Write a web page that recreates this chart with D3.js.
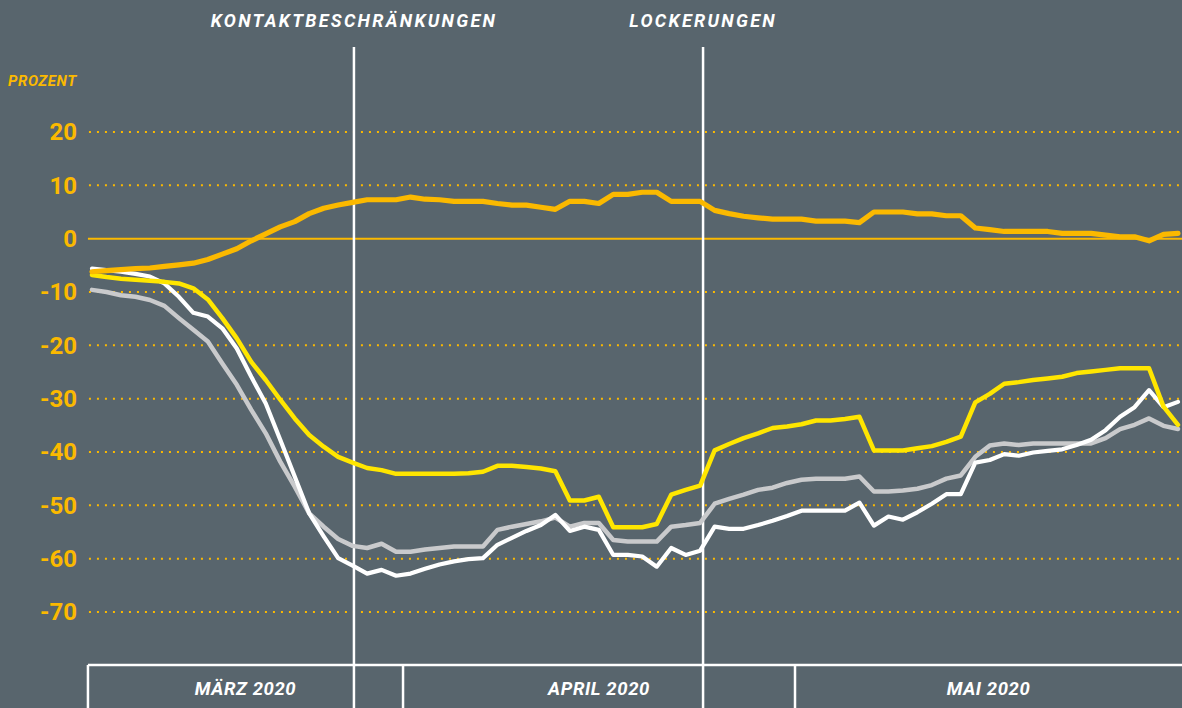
<!DOCTYPE html>
<html><head><meta charset="utf-8">
<script src="https://cdn.jsdelivr.net/npm/d3@7"></script>
<style>
html,body{margin:0;padding:0;background:#58656d;}
svg{display:block;}
text{font-family:Roboto,"Open Sans",sans-serif;}
</style></head>
<body>
<svg id="c" width="1182" height="708"></svg>
<script>
// ---- data ----
const yTicks = [20, 10, 0, -10, -20, -30, -40, -50, -60, -70];
const yTickLabels = ["20", "10", "0", "-10", "-20", "-30", "-40", "-50", "-60", "-70"];
const unitLabel = "PROZENT";

const residential = [-6.2,-6.0,-5.8,-5.6,-5.5,-5.2,-4.9,-4.6,-3.9,-2.9,-1.9,-0.4,0.9,2.2,3.2,4.7,5.7,6.3,6.8,7.3,
  7.3,7.3,7.8,7.4,7.3,7.0,7.0,7.0,6.6,6.3,6.3,5.9,5.5,7.0,7.0,6.6,8.3,8.3,8.7,8.7,
  7.0,7.0,7.0,5.3,4.7,4.2,3.9,3.65,3.65,3.65,3.3,3.3,3.3,3.0,5.0,5.0,5.0,4.65,4.65,4.3,
  4.3,2.0,1.7,1.35,1.35,1.35,1.35,1.0,1.0,1.0,0.65,0.35,0.35,-0.4,0.8,1.0];
const workplaces = [-6.8,-7.2,-7.5,-7.7,-7.9,-8.1,-8.4,-9.3,-11.4,-14.9,-18.7,-23.1,-26.5,-30.2,-33.7,-36.8,-39.0,-40.9,-42.0,-43.0,
  -43.4,-44.1,-44.1,-44.1,-44.1,-44.1,-44.0,-43.7,-42.6,-42.6,-42.8,-43.1,-43.6,-49.1,-49.1,-48.4,-54.1,-54.1,-54.1,-53.5,
  -48.0,-47.1,-46.3,-39.7,-38.5,-37.4,-36.5,-35.5,-35.2,-34.8,-34.1,-34.1,-33.8,-33.4,-39.7,-39.7,-39.7,-39.3,-38.9,-38.1,
  -37.1,-30.7,-29.1,-27.2,-26.9,-26.5,-26.2,-25.9,-25.2,-24.9,-24.6,-24.3,-24.3,-24.3,-31.5,-34.9];
const retail = [-5.6,-5.9,-6.2,-6.6,-7.1,-8.4,-10.9,-13.9,-14.6,-16.8,-20.6,-25.9,-30.9,-37.7,-44.6,-51.5,-55.8,-59.9,-61.3,-62.8,
  -62.1,-63.2,-62.8,-61.9,-61.1,-60.5,-60.1,-59.9,-57.4,-56.1,-54.8,-53.7,-51.8,-54.8,-54.0,-54.6,-59.3,-59.3,-59.6,-61.5,
  -58.0,-59.3,-58.5,-54.0,-54.4,-54.4,-53.7,-52.9,-52.0,-51.0,-51.0,-51.0,-51.0,-49.5,-53.8,-52.1,-52.7,-51.3,-49.7,-47.9,
  -47.9,-42.0,-41.5,-40.4,-40.7,-40.1,-39.8,-39.5,-38.7,-37.7,-35.9,-33.4,-31.6,-28.4,-31.6,-30.6];
const transit = [-9.6,-10.0,-10.6,-10.9,-11.5,-12.6,-14.9,-17.1,-19.3,-23.4,-27.4,-32.1,-36.5,-41.8,-46.5,-51.5,-54.0,-56.3,-57.6,-58.0,
  -57.2,-58.7,-58.7,-58.3,-58.0,-57.7,-57.7,-57.7,-54.6,-54.0,-53.5,-53.0,-52.3,-54.0,-53.3,-53.3,-56.5,-56.8,-56.8,-56.8,
  -54.0,-53.7,-53.3,-49.7,-48.8,-48.0,-47.1,-46.7,-45.8,-45.2,-45.0,-45.0,-45.0,-44.6,-47.4,-47.4,-47.2,-46.9,-46.2,-45.0,
  -44.4,-40.9,-38.8,-38.4,-38.7,-38.4,-38.4,-38.4,-38.4,-38.4,-37.4,-35.7,-34.9,-33.7,-35.1,-35.7];

// events (in day-index units) and month cells
const eventLabels = ["KONTAKTBESCHRÄNKUNGEN", "LOCKERUNGEN"];
const eventPos = [18.09, 42.2];
const monthLabels = ["MÄRZ 2020", "APRIL 2020", "MAI 2020"];
const monthBounds = [-0.28, 21.48, 48.55, 75.28];

// ---- styles ----
const BG = "#58656d", ORANGE = "#fbb900", YELLOW = "#ffe600", WHITE = "#ffffff", GRAY = "#c9cacc";

const svg = d3.select("#c");
svg.append("rect").attr("width",1182).attr("height",708).attr("fill",BG);

const n = residential.length;
const x = d3.scaleLinear().domain([0, n-1]).range([92, 1178]);
const y = d3.scaleLinear().domain([-70, 20]).range([612, 132]);
const x0 = x(monthBounds[0]), x1 = x(monthBounds[monthBounds.length-1]);

// grid lines
const grid = svg.append("g");
yTicks.forEach((t,i) => {
  if (t === 0) return;
  grid.append("line").attr("x1", x0+1).attr("x2", x1).attr("y1", y(t)).attr("y2", y(t))
    .attr("stroke", ORANGE).attr("stroke-width", 2).attr("stroke-dasharray", "2,6");
});
// zero line
grid.append("line").attr("x1", x0).attr("x2", x1).attr("y1", y(0)).attr("y2", y(0))
  .attr("stroke", ORANGE).attr("stroke-width", 2);

// y tick labels
const axis = svg.append("g");
yTicks.forEach((t,i) => {
  axis.append("text").attr("x", 77).attr("y", y(t)).attr("dy", "0.35em")
    .attr("text-anchor","end").attr("fill", ORANGE)
    .attr("font-size", 24).attr("font-weight", 700).text(yTickLabels[i]);
});
svg.append("text").attr("x", 8).attr("y", 86).attr("fill", ORANGE)
  .attr("font-size", 15).attr("font-weight", 700).attr("font-style","italic")
  .attr("letter-spacing", 0.6).text(unitLabel);

// band
const bandTop = 665;
svg.append("line").attr("x1", x0).attr("x2", x1+2).attr("y1", bandTop).attr("y2", bandTop)
  .attr("stroke", WHITE).attr("stroke-width", 2.5);
monthBounds.forEach((b,i) => {
  if (i === monthBounds.length-1) return;
  svg.append("line").attr("x1", x(b)).attr("x2", x(b)).attr("y1", bandTop).attr("y2", 710)
    .attr("stroke", WHITE).attr("stroke-width", 2.5);
});
monthLabels.forEach((m,i) => {
  svg.append("text").attr("x", (x(monthBounds[i]) + x(monthBounds[i+1]))/2).attr("y", 695)
    .attr("text-anchor","middle").attr("fill", WHITE)
    .attr("font-size", 18.5).attr("font-weight", 700).attr("font-style","italic")
    .attr("letter-spacing", 0.6).text(m);
});

// event lines
eventPos.forEach((e,i) => {
  svg.append("line").attr("x1", x(e)).attr("x2", x(e)).attr("y1", 47).attr("y2", 708)
    .attr("stroke", WHITE).attr("stroke-width", 2.5);
  svg.append("text").attr("x", x(e)).attr("y", 26.5).attr("text-anchor","middle")
    .attr("fill", WHITE).attr("font-size", 18).attr("font-weight", 700)
    .attr("font-style","italic").attr("letter-spacing", 2.3).text(eventLabels[i]);
});

// series
const line = d3.line().x((d,i) => x(i)).y(d => y(d));
const series = [
  {v: transit, c: GRAY, w: 4.5},
  {v: retail, c: WHITE, w: 4.2},
  {v: workplaces, c: YELLOW, w: 4.5},
  {v: residential, c: ORANGE, w: 5.2}
];
series.forEach(s => {
  svg.append("path").datum(s.v).attr("d", line).attr("fill","none")
    .attr("stroke", s.c).attr("stroke-width", s.w)
    .attr("stroke-linejoin","round").attr("stroke-linecap","round");
});
</script>
</body></html>
